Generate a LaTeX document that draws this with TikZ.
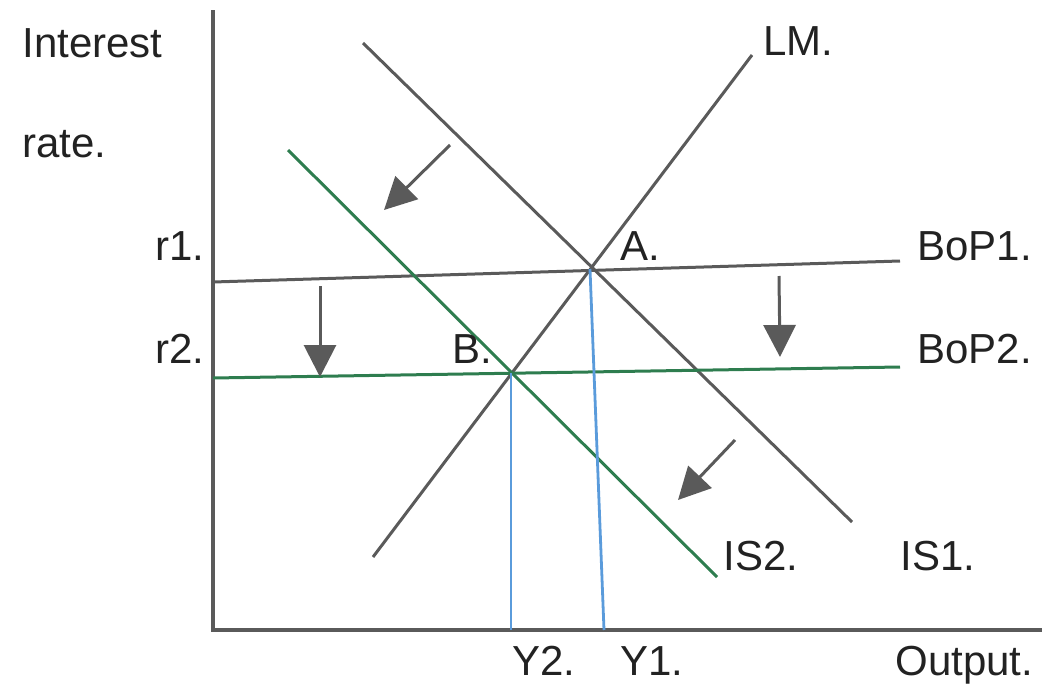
\documentclass[tikz,border=0pt]{standalone}
\usepackage{fontspec}
\setmainfont{Liberation Sans}
\usetikzlibrary{arrows.meta,positioning,calc}
\definecolor{linegray}{HTML}{5A5A5A}
\definecolor{bopgreen}{HTML}{2E7D4F}
\definecolor{ylblue}{HTML}{5A9BDB}
\definecolor{txtgray}{HTML}{222222}

\begin{document}
\begin{tikzpicture}[
    x=0.5pt, y=-0.5pt,
    axis/.style={draw=linegray, line width=2pt},
    curve/.style={draw=linegray, line width=1.5pt},
    newcurve/.style={draw=bopgreen, line width=1.5pt},
    drop/.style={draw=ylblue, line width=1.4pt},
    movearrow/.style={-{Triangle[length=16pt,width=16pt]}, draw=linegray, fill=linegray, line width=1.5pt},
    lbl/.style={font=\fontsize{21}{25}\selectfont, text=txtgray, inner sep=0pt, anchor=base west}
]
\useasboundingbox (0,0) rectangle (1045,686);

%% ── Axes ─────────────────────────────────────────────────────────
\coordinate (origin) at (213,630);
\coordinate (ytop)   at (213,10);
\coordinate (xend)   at (1042,630);
\draw[axis] (ytop) -- (origin) -- (xend);

%% ── Curve end points and equilibria ─────────────────────────────
\coordinate (is1a)  at (363,43);   \coordinate (is1b)  at (852,522);
\coordinate (lma)   at (373,557);  \coordinate (lmb)   at (752,55);
\coordinate (is2a)  at (288,150);  \coordinate (is2b)  at (717,577);
\coordinate (bop1a) at (213,282);  \coordinate (bop1b) at (900,261);
\coordinate (bop2a) at (213,378);  \coordinate (bop2b) at (900,367);
\coordinate (A) at (590,269);
\coordinate (B) at (511,373);
\coordinate (y1foot) at (604,630);
\coordinate (y2foot) at (511,630);

%% ── Curves ───────────────────────────────────────────────────────
\draw[curve]    (is1a)  -- (is1b);
\draw[curve]    (lma)   -- (lmb);
\draw[curve]    (bop1a) -- (bop1b);
\draw[newcurve] (is2a)  -- (is2b);
\draw[newcurve] (bop2a) -- (bop2b);

%% ── Output levels ────────────────────────────────────────────────
\draw[drop] (A) -- (y1foot);
\draw[drop] (B) -- (y2foot);

%% ── Shift arrows ─────────────────────────────────────────────────
\coordinate (s1a) at (450,145); \coordinate (s1b) at (384,210);
\coordinate (s2a) at (320,286); \coordinate (s2b) at (320,377);
\coordinate (s3a) at (779,276); \coordinate (s3b) at (780,357);
\coordinate (s4a) at (735,440); \coordinate (s4b) at (678,500);
\draw[movearrow] (s1a) -- (s1b);
\draw[movearrow] (s2a) -- (s2b);
\draw[movearrow] (s3a) -- (s3b);
\draw[movearrow] (s4a) -- (s4b);

%% ── Labels ───────────────────────────────────────────────────────
\node[lbl] (interest) at (22,57)   {Interest};
\node[lbl] (rate)     at (22,157)  {rate.};
\node[lbl] (r1)       at (155,260) {r1.};
\node[lbl] (r2)       at (155,363) {r2.};
\node[lbl] (lmlbl)    at (763,55)  {LM.};
\node[lbl] (albl)     at (620,260) {A.};
\node[lbl] (blbl)     at (452,363) {B.};
\node[lbl] (bop1lbl)  at (917,260) {BoP1.};
\node[lbl] (bop2lbl)  at (917,363) {BoP2.};
\node[lbl] (is2lbl)   at (723,570) {IS2.};
\node[lbl] (is1lbl)   at (900,570) {IS1.};
\node[lbl] (y2lbl)    at (512,675) {Y2.};
\node[lbl] (y1lbl)    at (620,675) {Y1.};
\node[lbl] (outlbl)   at (895,675) {Output.};

\end{tikzpicture}
\end{document}
